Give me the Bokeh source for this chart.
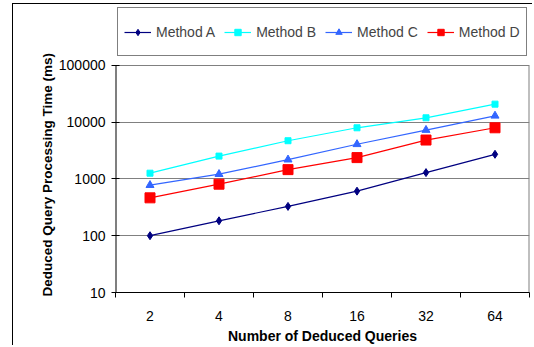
from bokeh.plotting import figure
from bokeh.models import FixedTicker, Legend, NumeralTickFormatter, Range1d, Title
from bokeh.embed import file_html
from bokeh.resources import INLINE

categories = ["2", "4", "8", "16", "32", "64"]
method_a = [100, 183, 328, 608, 1290, 2710]
method_b = [1260, 2520, 4700, 7940, 11900, 20700]
method_c = [775, 1210, 2180, 4070, 7240, 12900]
method_d = [464, 807, 1456, 2370, 4830, 7940]
y_ticks = [10, 100, 1000, 10000, 100000]

xs = list(range(1, len(categories) + 1))
FONT = "Liberation Sans"
y_min, y_max = y_ticks[0], y_ticks[-1]

p = figure(width=520, height=342, y_axis_type="log", output_backend="svg",
           toolbar_location=None, x_range=Range1d(0.5, len(categories) + 0.5),
           y_range=Range1d(y_min, 10 ** (5 + 60 / 57)),
           min_border_left=102, min_border_right=4, min_border_top=1, min_border_bottom=53,
           styles={"margin-left": "12px", "margin-top": "3px",
                   "border-left": "1px solid black", "border-top": "1px solid black"})

p.outline_line_color = None
p.xgrid.grid_line_color = None
p.ygrid.grid_line_color = "#808080"
p.ygrid.grid_line_width = 1

# x axis: ticks between categories, labels at centres
p.xaxis.ticker = FixedTicker(ticks=xs, minor_ticks=[x - 0.5 for x in xs] + [len(xs) + 0.5])
p.xaxis.major_label_overrides = {x: c for x, c in zip(xs, categories)}
p.xaxis.major_tick_line_color = None
p.xaxis.major_tick_out = 0
p.xaxis.major_tick_in = 0
p.xaxis.minor_tick_line_color = "black"
p.xaxis.minor_tick_out = 5
p.xaxis.minor_tick_in = 0
p.xaxis.axis_line_color = "black"
p.xaxis.major_label_standoff = 13
p.xaxis.axis_label = "Number of Deduced Queries"
p.xaxis.axis_label_standoff = 4

p.yaxis.ticker = FixedTicker(ticks=y_ticks, minor_ticks=[])
p.yaxis.formatter = NumeralTickFormatter(format="0")
p.yaxis.axis_line_color = None
p.yaxis.major_tick_out = 4
p.yaxis.major_tick_in = 4
p.yaxis.major_tick_line_color = "black"
p.yaxis.major_label_standoff = 6

for ax in (p.xaxis[0], p.yaxis[0]):
    ax.major_label_text_font = FONT
    ax.major_label_text_font_size = "14px"
    ax.major_label_text_color = "black"
    ax.axis_label_text_font = FONT
    ax.axis_label_text_font_style = "bold"
    ax.axis_label_text_color = "black"
p.xaxis.axis_label_text_font_size = "14px"

# value-axis title, anchored near the bottom of the plotted decades
ytitle = Title(text="Deduced Query Processing Time (ms)", align="left", offset=-4,
               text_font=FONT, text_font_size="13.5px", text_font_style="bold",
               text_color="black", standoff=2)
p.add_layout(ytitle, "left")

# plot-area borders: black value axis line, grey right edge
p.segment(x0=[0.5], y0=[y_min], x1=[0.5], y1=[y_max], line_color="black", line_width=2)
p.segment(x0=[len(xs) + 0.5], y0=[y_min], x1=[len(xs) + 0.5], y1=[y_max],
          line_color="#808080", line_width=2)

series = [
    ("Method A", method_a, "#000080", "diamond", 8),
    ("Method B", method_b, "#00FFFF", "square", 6),
    ("Method C", method_c, "#3366FF", "triangle", 8),
    ("Method D", method_d, "#FF0000", "square", 10),
]

items = []
for name, vals, color, marker, size in series:
    r1 = p.line(xs, vals, line_color=color, line_width=1.2)
    r2 = p.scatter(xs, vals, marker=marker, size=size, fill_color=color, line_color=color)
    items.append((name, [r1, r2]))

legend = Legend(items=items, orientation="horizontal", location="top_left",
                border_line_color="black", border_line_width=1,
                label_text_font=FONT, label_text_font_size="14px",
                glyph_width=27, glyph_height=16, label_standoff=5, spacing=9,
                padding=6, margin=2, label_height=35,
                background_fill_color="white", background_fill_alpha=1)
p.add_layout(legend, "center")

open("out.html", "w").write(file_html(p, INLINE))
